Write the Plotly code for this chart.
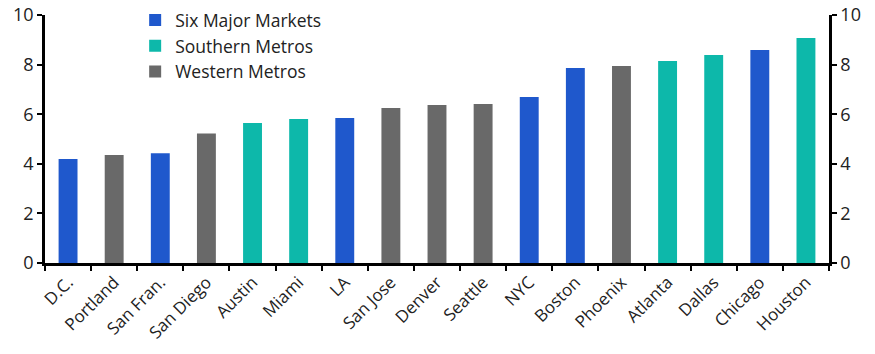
import plotly.graph_objects as go

cities = ["D.C.", "Portland", "San Fran.", "San Diego", "Austin", "Miami", "LA", "San Jose",
          "Denver", "Seattle", "NYC", "Boston", "Phoenix", "Atlanta", "Dallas", "Chicago", "Houston"]
values = [4.19, 4.35, 4.43, 5.22, 5.65, 5.81, 5.85, 6.25, 6.37, 6.41, 6.69, 7.86, 7.94, 8.15, 8.39, 8.59, 9.07]
groups = ["Six", "West", "Six", "West", "South", "South", "Six", "West", "West", "West",
          "Six", "Six", "West", "South", "South", "Six", "South"]

series = [("Six", "Six Major Markets", "#1f58cc"),
          ("South", "Southern Metros", "#0db8aa"),
          ("West", "Western Metros", "#696969")]

font = "Open Sans"
fig = go.Figure()
for key, name, color in series:
    xs = [c for c, g in zip(cities, groups) if g == key]
    ys = [v for v, g in zip(values, groups) if g == key]
    fig.add_trace(go.Bar(x=xs, y=ys, name=name, marker_color=color, width=0.41,
                         marker_line_width=0))
fig.add_trace(go.Scatter(x=[cities[0]], y=[0], yaxis="y2", mode="markers",
                         marker_opacity=0, showlegend=False, hoverinfo="skip"))

axis_common = dict(range=[0, 10], dtick=2, showgrid=False, zeroline=False,
                   showline=True, linecolor="black", linewidth=2.5,
                   ticks="outside", ticklen=5, tickwidth=2, tickcolor="black",
                   tickfont=dict(family=font, size=18, color="#222"))
fig.update_layout(
    width=875, height=354, barmode="overlay",
    margin=dict(l=45, r=46, t=15, b=91, autoexpand=False),
    plot_bgcolor="white", paper_bgcolor="white",
    font=dict(family=font, size=16, color="#222"),
    xaxis=dict(type="category", categoryorder="array", categoryarray=cities,
               range=[-0.5, 16.5], tickangle=-45, showline=True, linecolor="black",
               linewidth=2.5, ticks="outside", ticklen=5, tickwidth=2, tickcolor="black",
               tickson="boundaries", showgrid=False, automargin=False,
               tickfont=dict(family=font, size=17, color="#222")),
    yaxis=dict(**axis_common, automargin=False),
    yaxis2=dict(**axis_common, overlaying="y", side="right", automargin=False),
    legend=dict(x=0.115, y=1.052, xanchor="left", yanchor="top", bgcolor="rgba(0,0,0,0)",
                font=dict(family=font, size=17.5, color="#222"), tracegroupgap=0,
                itemwidth=30),
    showlegend=True,
)
fig.write_html("out.html")
